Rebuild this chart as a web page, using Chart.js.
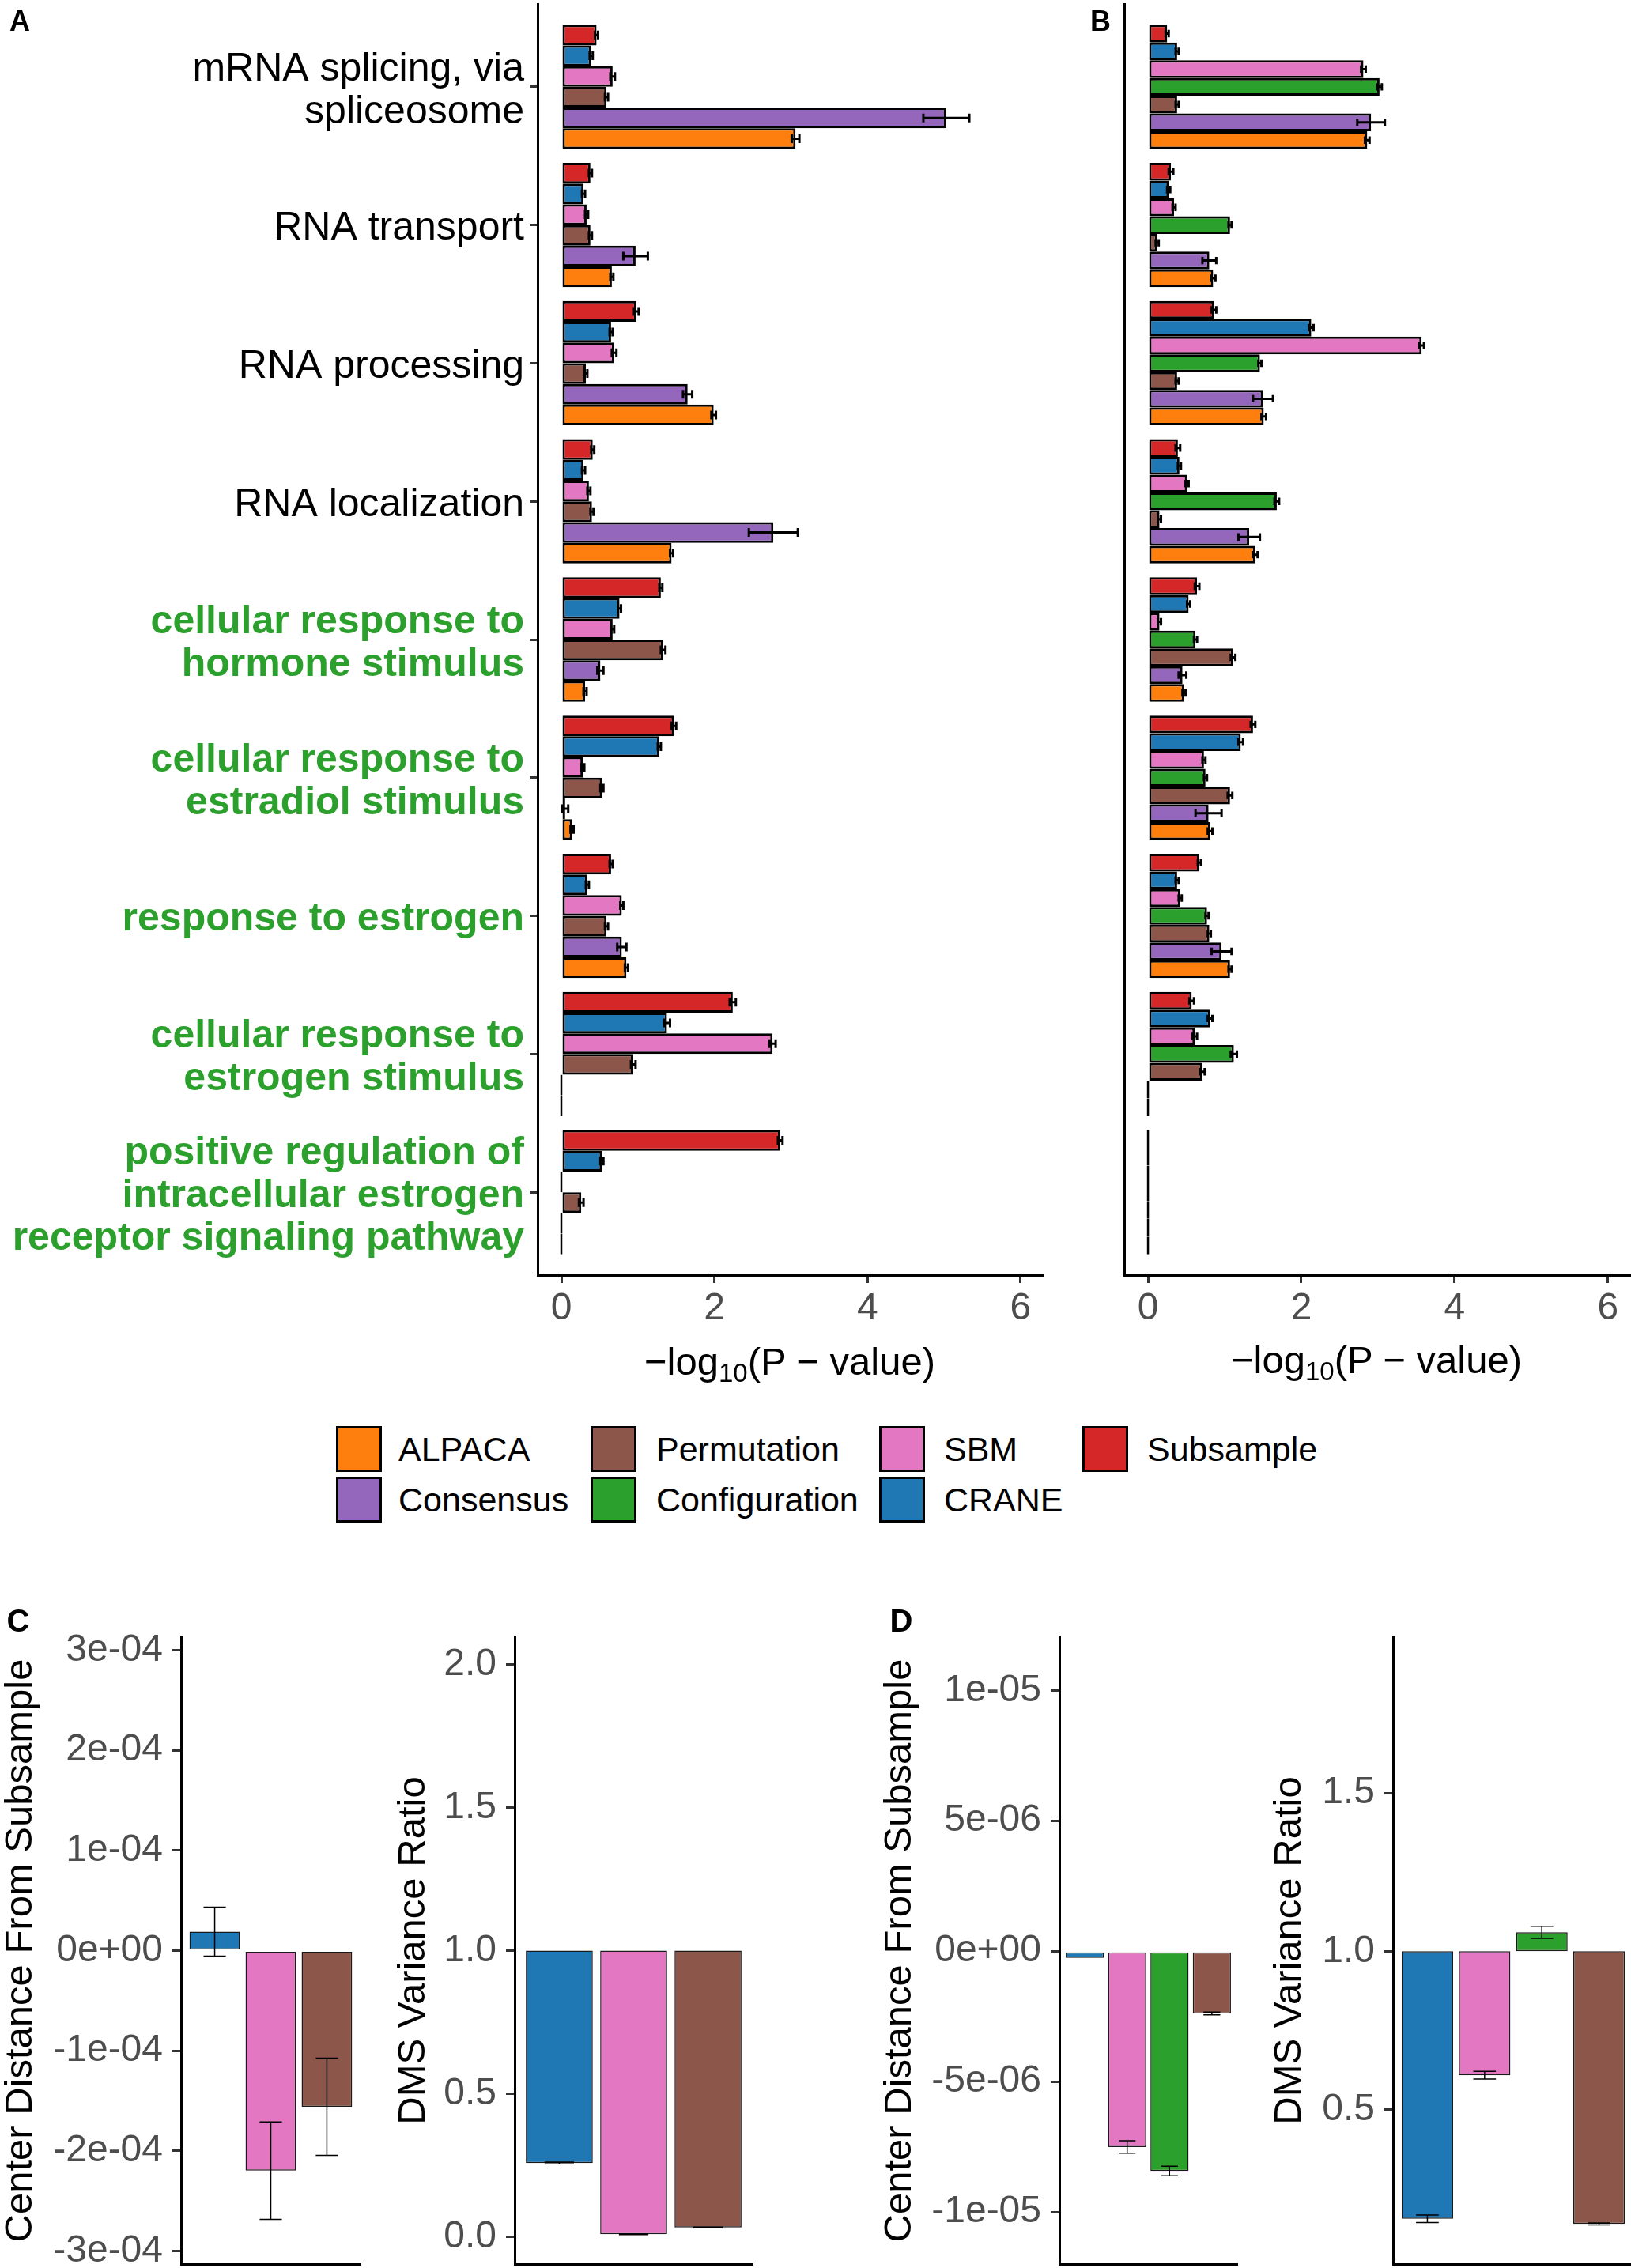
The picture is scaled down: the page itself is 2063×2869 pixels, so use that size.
<!DOCTYPE html>
<html lang="en">
<head>
<meta charset="UTF-8">
<title>GO enrichment and DMS comparison</title>
<script src="https://cdn.jsdelivr.net/npm/chart.js"></script>
<style>
  html, body { margin: 0; padding: 0; background: #fff; overflow: hidden; }
  body { width: 2063px; height: 2869px; position: relative; font-family: 'Liberation Sans', Arial, sans-serif; }
  canvas { position: absolute; }
  .tag { position: absolute; font-weight: bold; line-height: 1; transform: translate(-50%, -50%); }
  .xtitle { position: absolute; font-size: 49px; line-height: 1; transform: translate(-50%, -50%); white-space: nowrap; }
  .xtitle sub { font-size: 33px; line-height: 0; vertical-align: -0.3em; }
  .key { position: absolute; width: 58px; height: 58px; box-sizing: border-box; border: 3px solid #000; }
  .ktext { position: absolute; font-size: 43px; line-height: 1; transform: translateY(-50%); white-space: nowrap; }
</style>
</head>
<body>
<script>
// ---- data: panels A / B (-log10 p-value per GO term) ----
const categories = [
  ['mRNA splicing, via', 'spliceosome'],
  ['RNA transport'],
  ['RNA processing'],
  ['RNA localization'],
  ['cellular response to', 'hormone stimulus'],
  ['cellular response to', 'estradiol stimulus'],
  ['response to estrogen'],
  ['cellular response to', 'estrogen stimulus'],
  ['positive regulation of', 'intracellular estrogen', 'receptor signaling pathway']
];
const highlighted = [false, false, false, false, true, true, true, true, true];
const xTicks = [0, 2, 4, 6];

// panel A
const aSubsample = [0.46, 0.38, 0.98, 0.41, 1.30, 1.47, 0.65, 2.24, 2.86];
const aCrane = [0.39, 0.29, 0.65, 0.29, 0.76, 1.28, 0.34, 1.38, 0.53];
const aSbm = [0.67, 0.33, 0.69, 0.36, 0.67, 0.28, 0.79, 2.76, 0];
const aPermutation = [0.59, 0.38, 0.32, 0.40, 1.33, 0.53, 0.59, 0.94, 0.26];
const aConsensus = [5.03, 0.97, 1.65, 2.77, 0.51, 0.05, 0.79, 0, 0];
const aAlpaca = [3.06, 0.66, 1.99, 1.44, 0.31, 0.14, 0.85, 0, 0];
const aSubsampleErr = [0.02, 0.02, 0.03, 0.02, 0.02, 0.03, 0.02, 0.04, 0.03];
const aCraneErr = [0.02, 0.02, 0.02, 0.02, 0.02, 0.02, 0.02, 0.04, 0.02];
const aSbmErr = [0.03, 0.02, 0.03, 0.02, 0.02, 0.02, 0.02, 0.04, 0];
const aPermutationErr = [0.02, 0.02, 0.02, 0.02, 0.03, 0.02, 0.02, 0.03, 0.03];
const aConsensusErr = [0.30, 0.16, 0.06, 0.32, 0.04, 0.04, 0.06, 0, 0];
const aAlpacaErr = [0.05, 0.02, 0.03, 0.02, 0.02, 0.02, 0.02, 0, 0];

// panel B
const bSubsample = [0.25, 0.30, 0.86, 0.39, 0.64, 1.37, 0.67, 0.57, 0];
const bCrane = [0.38, 0.27, 2.13, 0.41, 0.53, 1.21, 0.38, 0.81, 0];
const bSbm = [2.81, 0.34, 3.57, 0.51, 0.15, 0.73, 0.42, 0.61, 0];
const bConfiguration = [3.02, 1.07, 1.46, 1.68, 0.62, 0.75, 0.77, 1.12, 0];
const bPermutation = [0.38, 0.12, 0.38, 0.15, 1.11, 1.07, 0.80, 0.71, 0];
const bConsensus = [2.91, 0.80, 1.50, 1.32, 0.45, 0.79, 0.96, 0, 0];
const bAlpaca = [2.86, 0.85, 1.51, 1.40, 0.47, 0.81, 1.07, 0, 0];
const bSubsampleErr = [0.02, 0.03, 0.03, 0.03, 0.03, 0.03, 0.02, 0.03, 0];
const bCraneErr = [0.02, 0.02, 0.03, 0.02, 0.02, 0.03, 0.02, 0.03, 0];
const bSbmErr = [0.03, 0.02, 0.03, 0.02, 0.02, 0.02, 0.02, 0.03, 0];
const bConfigurationErr = [0.03, 0.02, 0.02, 0.03, 0.02, 0.02, 0.02, 0.04, 0];
const bPermutationErr = [0.02, 0.02, 0.02, 0.02, 0.03, 0.03, 0.02, 0.03, 0];
const bConsensusErr = [0.18, 0.09, 0.13, 0.14, 0.05, 0.17, 0.13, 0, 0];
const bAlpacaErr = [0.03, 0.03, 0.03, 0.03, 0.02, 0.03, 0.02, 0, 0];

// ---- data: panels C / D ----
const cMethods = ['CRANE', 'SBM', 'Permutation'];
const cCenter = [1.9e-5, -2.197e-4, -1.559e-4];
const cCenterErr = [2.45e-5, 4.86e-5, 4.86e-5];
const cCenterTicks = [3e-4, 2e-4, 1e-4, 0, -1e-4, -2e-4, -3e-4];
const cCenterTickLabels = ['3e-04', '2e-04', '1e-04', '0e+00', '-1e-04', '-2e-04', '-3e-04'];
const cRatio = [0.258, 0.009, 0.033];
const cRatioErr = [0.003, 0.001, 0.001];
const cRatioTicks = [2.0, 1.5, 1.0, 0.5, 0.0];
const cRatioTickLabels = ['2.0', '1.5', '1.0', '0.5', '0.0'];

const dMethods = ['CRANE', 'SBM', 'Configuration', 'Permutation'];
const dCenter = [-2.6e-7, -7.51e-6, -8.43e-6, -2.39e-6];
const dCenterErr = [0, 0.24e-6, 0.18e-6, 0.05e-6];
const dCenterTicks = [1e-5, 5e-6, 0, -5e-6, -1e-5];
const dCenterTickLabels = ['1e-05', '5e-06', '0e+00', '-5e-06', '-1e-05'];
const dRatio = [0.154, 0.608, 1.06, 0.138];
const dRatioErr = [0.012, 0.012, 0.019, 0.003];
const dRatioTicks = [1.5, 1.0, 0.5];
const dRatioTickLabels = ['1.5', '1.0', '0.5'];

const legendOrder = ['ALPACA', 'Consensus', 'Permutation', 'Configuration', 'SBM', 'CRANE', 'Subsample'];
const colors = {
  ALPACA: '#FF7F0E', Consensus: '#9467BD', Permutation: '#8C564B', Configuration: '#2CA02C',
  SBM: '#E377C2', CRANE: '#1F77B4', Subsample: '#D62728'
};

const FONT = "'Liberation Sans', Arial, sans-serif";
const GREEN = '#2CA02C';
const TICKGREY = '#4D4D4D';
Chart.defaults.font.family = FONT;

// error bars drawn from the value scale
const errorBars = {
  id: 'errorBars',
  afterDatasetsDraw(chart) {
    const ctx = chart.ctx;
    const horiz = chart.options.indexAxis === 'y';
    const vScale = horiz ? chart.scales.x : chart.scales.y;
    chart.data.datasets.forEach((ds, di) => {
      if (!ds.errors) return;
      chart.getDatasetMeta(di).data.forEach((bar, j) => {
        const e = ds.errors[j];
        if (!e) return;
        const v = ds.ends[j];
        const lo = vScale.getPixelForValue(v - e);
        const hi = vScale.getPixelForValue(v + e);
        const cap = (horiz ? bar.height : bar.width) * ds.capRatio / 2;
        ctx.save();
        ctx.strokeStyle = '#000';
        ctx.lineWidth = ds.errWidth;
        ctx.beginPath();
        if (horiz) {
          ctx.moveTo(lo, bar.y); ctx.lineTo(hi, bar.y);
          ctx.moveTo(lo, bar.y - cap); ctx.lineTo(lo, bar.y + cap);
          ctx.moveTo(hi, bar.y - cap); ctx.lineTo(hi, bar.y + cap);
        } else {
          ctx.moveTo(bar.x, lo); ctx.lineTo(bar.x, hi);
          ctx.moveTo(bar.x - cap, lo); ctx.lineTo(bar.x + cap, lo);
          ctx.moveTo(bar.x - cap, hi); ctx.lineTo(bar.x + cap, hi);
        }
        ctx.stroke();
        ctx.restore();
      });
    });
  }
};

function makeCanvas(left, top, w, h) {
  const c = document.createElement('canvas');
  c.width = w; c.height = h;
  c.style.left = left + 'px'; c.style.top = top + 'px';
  document.body.appendChild(c);
  return c;
}

function addText(cls, html, left, top, size) {
  const d = document.createElement('div');
  d.className = cls;
  d.innerHTML = html;
  d.style.left = left + 'px'; d.style.top = top + 'px';
  if (size) d.style.fontSize = size + 'px';
  document.body.appendChild(d);
}

// keep the plot area where it is, whatever size the edge labels have
function fixWidth(w) {
  return s => { s.width = w; s.paddingTop = 0; s.paddingBottom = 0; };
}
function fixHeight(h) {
  return s => { s.height = h; s.paddingLeft = 0; s.paddingRight = 0; };
}

// ---- panels A and B ----
function goPanel(canvas, series, opts) {
  const datasets = series.map(([name, vals, errs]) => ({
    label: name,
    data: vals.map((v, i) => ({ x: v, y: i })),
    backgroundColor: colors[name],
    borderColor: '#000',
    borderWidth: 3,
    borderSkipped: false,
    minBarLength: 3,
    errors: errs, ends: vals, capRatio: 0.42, errWidth: 3
  }));
  return new Chart(canvas, {
    type: 'bar',
    data: { datasets },
    plugins: [errorBars],
    options: {
      responsive: false,
      animation: false,
      indexAxis: 'y',
      categoryPercentage: 0.9,
      barPercentage: 1.0,
      layout: { padding: { left: 0, right: opts.padRight, top: 5, bottom: 0 } },
      plugins: { legend: { display: false }, tooltip: { enabled: false } },
      scales: {
        y: {
          type: 'linear', bounds: 'data', offset: false, reverse: true, min: -0.6, max: 8.6,
          afterBuildTicks: s => { s.ticks = categories.map((c, i) => ({ value: i })); },
          afterFit: fixWidth(opts.yWidth),
          border: { display: true, color: '#000', width: 3 },
          grid: { display: opts.showLabels, offset: false, drawOnChartArea: false, drawTicks: true, tickLength: 10, color: '#333', lineWidth: 3 },
          ticks: {
            display: opts.showLabels,
            autoSkip: false,
            padding: 7,
            labelOffset: 5,
            callback: v => categories[v],
            color: c => highlighted[c.index] ? GREEN : '#000',
            font: c => ({ family: FONT, size: 50, weight: highlighted[c.index] ? 'bold' : 'normal', lineHeight: 1.08 })
          }
        },
        x: {
          type: 'linear', bounds: 'data', min: -0.31, max: 6.28,
          afterBuildTicks: s => { s.ticks = xTicks.map(v => ({ value: v })); },
          afterFit: fixHeight(1700 - 1613),
          border: { display: true, color: '#000', width: 3 },
          grid: { drawOnChartArea: false, drawTicks: true, tickLength: 10, color: '#333', lineWidth: 3 },
          ticks: { color: TICKGREY, font: { size: 48 }, padding: 4, maxRotation: 0, autoSkip: false }
        }
      }
    }
  });
}

goPanel(makeCanvas(0, 0, 1340, 1700), [
  ['Subsample', aSubsample, aSubsampleErr],
  ['CRANE', aCrane, aCraneErr],
  ['SBM', aSbm, aSbmErr],
  ['Permutation', aPermutation, aPermutationErr],
  ['Consensus', aConsensus, aConsensusErr],
  ['ALPACA', aAlpaca, aAlpacaErr]
], { yWidth: 680, padRight: 22, showLabels: true });

goPanel(makeCanvas(1380, 0, 683, 1700), [
  ['Subsample', bSubsample, bSubsampleErr],
  ['CRANE', bCrane, bCraneErr],
  ['SBM', bSbm, bSbmErr],
  ['Configuration', bConfiguration, bConfigurationErr],
  ['Permutation', bPermutation, bPermutationErr],
  ['Consensus', bConsensus, bConsensusErr],
  ['ALPACA', bAlpaca, bAlpacaErr]
], { yWidth: 42, padRight: 2, showLabels: false });

const xTitle = '&minus;log<sub>10</sub>(P &minus; value)';
addText('xtitle', xTitle, 999, 1722);
addText('xtitle', xTitle, 1741, 1720);
addText('tag', 'A', 25, 27, 36);
addText('tag', 'B', 1392, 27, 36);

// ---- legend ----
const legCols = [[425, 504], [747, 830], [1112, 1194], [1369, 1451]];
const legRows = [1833, 1897];
legendOrder.forEach((name, k) => {
  const col = legCols[Math.floor(k / 2)], row = legRows[k % 2];
  const key = document.createElement('div');
  key.className = 'key';
  key.style.left = col[0] + 'px';
  key.style.top = (row - 29) + 'px';
  key.style.background = colors[name];
  document.body.appendChild(key);
  addText('ktext', name, col[1], row);
});

// ---- panels C and D ----
function dmsPanel(canvas, o) {
  return new Chart(canvas, {
    type: 'bar',
    data: {
      datasets: [{
        data: o.values.map((v, i) => ({ x: i, y: o.base === 0 ? v : [o.base, v] })),
        backgroundColor: o.methods.map(m => colors[m]),
        borderColor: '#1a1a1a',
        borderWidth: 1.5,
        borderSkipped: false,
        errors: o.errors, ends: o.values, capRatio: 0.44, errWidth: 1.5
      }]
    },
    plugins: [errorBars],
    options: {
      responsive: false,
      animation: false,
      categoryPercentage: 1.0,
      barPercentage: 0.9,
      layout: { padding: { left: 0, right: o.padRight, top: 31, bottom: 0 } },
      plugins: { legend: { display: false }, tooltip: { enabled: false } },
      scales: {
        x: {
          type: 'linear', bounds: 'data', offset: false, min: -0.6, max: o.methods.length - 0.4,
          afterBuildTicks: s => { s.ticks = o.methods.map((m, i) => ({ value: i })); },
          afterFit: fixHeight(860 - 824),
          border: { display: true, color: '#000', width: 3 },
          grid: { display: false, offset: false },
          ticks: { display: false }
        },
        y: {
          type: 'linear', bounds: 'data', min: o.min, max: o.max,
          afterBuildTicks: s => { s.ticks = o.ticks.map(v => ({ value: v })); },
          afterFit: fixWidth(o.yWidth),
          border: { display: true, color: '#000', width: 3 },
          grid: { drawOnChartArea: false, drawTicks: true, tickLength: 11, color: '#333', lineWidth: 3 },
          ticks: {
            color: TICKGREY, font: { size: 48, lineHeight: 1 }, padding: 12, autoSkip: false,
            callback: (v, i) => o.tickLabels[i]
          },
          title: {
            display: true, text: o.title, color: '#000',
            font: { size: 49, lineHeight: 1 }, padding: { top: 1.5, bottom: 0 }
          }
        }
      }
    }
  });
}

dmsPanel(makeCanvas(0, 2040, 470, 860), {
  methods: cMethods, values: cCenter, errors: cCenterErr, base: 0,
  ticks: cCenterTicks, tickLabels: cCenterTickLabels, min: -3.13e-4, max: 3.13e-4,
  title: 'Center Distance From Subsample', yWidth: 229, padRight: 14
});
dmsPanel(makeCanvas(497, 2040, 470, 860), {
  methods: cMethods, values: cRatio, errors: cRatioErr, base: 1,
  ticks: cRatioTicks, tickLabels: cRatioTickLabels, min: -0.095, max: 2.095,
  title: 'DMS Variance Ratio', yWidth: 154, padRight: 15
});
dmsPanel(makeCanvas(1112, 2040, 470, 860), {
  methods: dMethods, values: dCenter, errors: dCenterErr, base: 0,
  ticks: dCenterTicks, tickLabels: dCenterTickLabels, min: -1.2e-5, max: 1.204e-5,
  title: 'Center Distance From Subsample', yWidth: 228, padRight: 17
});
dmsPanel(makeCanvas(1605, 2040, 470, 860), {
  methods: dMethods, values: dRatio, errors: dRatioErr, base: 1,
  ticks: dRatioTicks, tickLabels: dRatioTickLabels, min: 0.011, max: 1.993,
  title: 'DMS Variance Ratio', yWidth: 157, padRight: 9
});

addText('tag', 'C', 23, 2050, 40);
addText('tag', 'D', 1140, 2050, 40);
</script>
</body>
</html>
